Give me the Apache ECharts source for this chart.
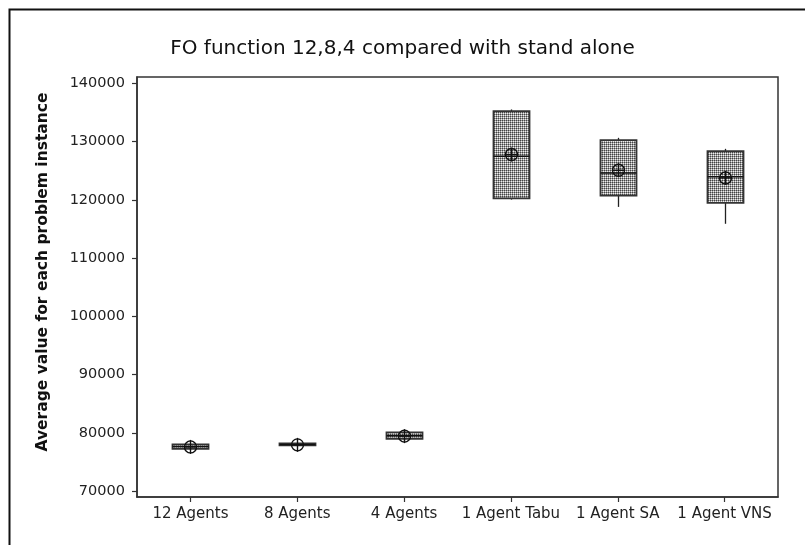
<!DOCTYPE html>
<html>
<head>
<meta charset="utf-8">
<script src="https://cdn.jsdelivr.net/npm/echarts@6/dist/echarts.min.js"></script>
<style>
html,body{margin:0;padding:0;background:#fff;}
#chart{width:805px;height:545px;}
</style>
</head>
<body>
<div id="chart"></div>
<script>
const categories = ['12 Agents', '8 Agents', '4 Agents', '1 Agent Tabu', '1 Agent SA', '1 Agent VNS'];
const minValues    = [77200, 77850, 78700, 120050, 118800, 115900];
const q1Values     = [77280, 77860, 79000, 120280, 120740, 119480];
const medianValues = [77650, 78000, 79500, 127500, 124640, 123960];
const q3Values     = [78030, 78200, 80100, 135240, 130250, 128360];
const maxValues    = [78100, 78210, 80450, 135530, 130660, 128770];
const meanValues   = [77600, 77950, 79450, 127790, 125090, 123780];
const yTickValues  = [70000, 80000, 90000, 100000, 110000, 120000, 130000, 140000];

const FONT = '"DejaVu Sans", Verdana, sans-serif';

// stipple pattern
const pc = document.createElement('canvas');
pc.width = 2; pc.height = 2;
const pctx = pc.getContext('2d');
pctx.fillStyle = '#eeeeee'; pctx.fillRect(0, 0, 2, 2);
pctx.fillStyle = '#444444'; pctx.fillRect(0, 0, 1, 1);
pctx.fillStyle = '#9a9a9a'; pctx.fillRect(1, 0, 1, 1); pctx.fillRect(0, 1, 1, 1);
const pattern = { image: pc, repeat: 'repeat' };

const boxData = categories.map((c, i) => [i, minValues[i], q1Values[i], medianValues[i], q3Values[i], maxValues[i], meanValues[i]]);

const chart = echarts.init(document.getElementById('chart'), null, { renderer: 'canvas' });

chart.setOption({
  animation: false,
  backgroundColor: '#fff',
  title: {
    text: 'FO function 12,8,4 compared with stand alone',
    left: 'center',
    top: 34,
    textStyle: { fontFamily: FONT, fontSize: 20, fontWeight: 'normal', color: '#111' }
  },
  graphic: [{
    type: 'rect',
    shape: { x: 9.5, y: 9.5, width: 900, height: 900 },
    style: { fill: 'none', stroke: '#111', lineWidth: 2 },
    silent: true
  }],
  grid: {
    left: 137, right: 27, top: 77, bottom: 48,
    show: true, borderColor: '#333', borderWidth: 1.5, backgroundColor: 'transparent'
  },
  xAxis: {
    type: 'category',
    data: categories,
    boundaryGap: true,
    axisLine: { lineStyle: { color: '#333', width: 1.5 } },
    axisTick: { show: true, alignWithLabel: true, length: 5, lineStyle: { color: '#333', width: 1.2 } },
    axisLabel: { fontFamily: FONT, fontSize: 15, color: '#222', margin: 10, interval: 0 },
    splitLine: { show: false }
  },
  yAxis: {
    type: 'value',
    min: 69000,
    max: 141100,
    name: 'Average value for each problem instance',
    nameLocation: 'middle',
    nameGap: 86,
    nameTextStyle: { fontFamily: FONT, fontSize: 15.5, fontWeight: 'bold', color: '#111', padding: [0, 0, 0, 30] },
    axisLine: { show: true, lineStyle: { color: '#333', width: 1.5 } },
    axisTick: { show: true, length: 5, customValues: yTickValues, lineStyle: { color: '#333', width: 1.2 } },
    axisLabel: { fontFamily: FONT, fontSize: 14.5, color: '#222', margin: 12, customValues: yTickValues,
      formatter: function (v) { return String(v); } },
    splitLine: { show: false }
  },
  series: [{
    type: 'custom',
    data: boxData,
    encode: { x: 0, y: [1, 2, 3, 4, 5, 6] },
    renderItem: function (params, api) {
      const idx = api.value(0);
      const x = Math.round(api.coord([idx, api.value(1)])[0]) + 0.5;
      const yMin = api.coord([idx, api.value(1)])[1];
      const yQ1 = api.coord([idx, api.value(2)])[1];
      const yMed = api.coord([idx, api.value(3)])[1];
      const yQ3 = api.coord([idx, api.value(4)])[1];
      const yMax = api.coord([idx, api.value(5)])[1];
      const yMean = api.coord([idx, api.value(6)])[1];
      const half = 18;
      const r = 6;
      return {
        type: 'group',
        children: [
          { type: 'line', shape: { x1: x, y1: yMax, x2: x, y2: yQ3 }, style: { stroke: '#222', lineWidth: 1.3 } },
          { type: 'line', shape: { x1: x, y1: yQ1, x2: x, y2: yMin }, style: { stroke: '#222', lineWidth: 1.3 } },
          { type: 'rect', shape: { x: x - half, y: yQ3, width: half * 2, height: Math.max(yQ1 - yQ3, 1.5) },
            style: { fill: pattern, stroke: '#333', lineWidth: 1.8 } },
          { type: 'line', shape: { x1: x - half, y1: yMed, x2: x + half, y2: yMed }, style: { stroke: '#111', lineWidth: 1.5 } },
          { type: 'circle', shape: { cx: x, cy: yMean, r: r }, style: { fill: 'none', stroke: '#111', lineWidth: 1.4 } },
          { type: 'line', shape: { x1: x - r, y1: yMean, x2: x + r, y2: yMean }, style: { stroke: '#111', lineWidth: 1.4 } },
          { type: 'line', shape: { x1: x, y1: yMean - r - 1, x2: x, y2: yMean + r + 1 }, style: { stroke: '#111', lineWidth: 1.4 } }
        ]
      };
    }
  }]
});
</script>
</body>
</html>
